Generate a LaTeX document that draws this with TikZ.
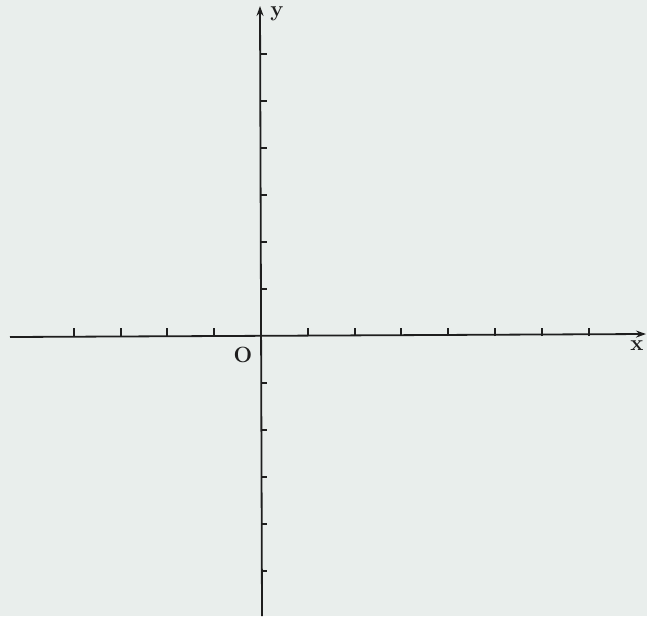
\documentclass[tikz,border=0pt]{standalone}
\usepackage{tikz}
\usetikzlibrary{arrows.meta}
\definecolor{paper}{HTML}{E9EEEC}
\definecolor{ink}{HTML}{1E1E1E}

\begin{document}
\begin{tikzpicture}[x=1pt, y=-1pt,
    axis/.style={-{Stealth[length=10pt, width=7pt]}, line width=1.8pt, draw=ink},
    tickmark/.style={line width=2pt, draw=ink},
    lbl/.style={font=\fontsize{22}{22}\selectfont\bfseries, text=ink, inner sep=0pt}
]
    % Paper
    \fill[paper] (0,0) rectangle (647,616);
    \useasboundingbox (0,0) rectangle (647,616);

    % Axes
    \coordinate (O) at (261,336);
    \coordinate (xstart) at (10,337);
    \coordinate (xend) at (646,334);
    \coordinate (ystart) at (262,616);
    \coordinate (yend) at (260,6);
    \draw[axis] (xstart) -- (xend);
    \draw[axis] (ystart) -- (yend);

    % Ticks
    \foreach \k in {-4,...,-1,1,2,...,7}
        \draw[tickmark] ([xshift=\k*46.8pt]O) -- ++(0,-8);
    \foreach \k in {-5,...,-1,1,2,...,6}
        \draw[tickmark] ([yshift=\k*47pt]O) -- ++(6,0);

    % Labels
    \node[lbl] (xlabel) at (637,346) {x};
    \node[lbl] (ylabel) at (277,14) {y};
    \node[lbl] (origin) at (243,355) {O};
\end{tikzpicture}
\end{document}
